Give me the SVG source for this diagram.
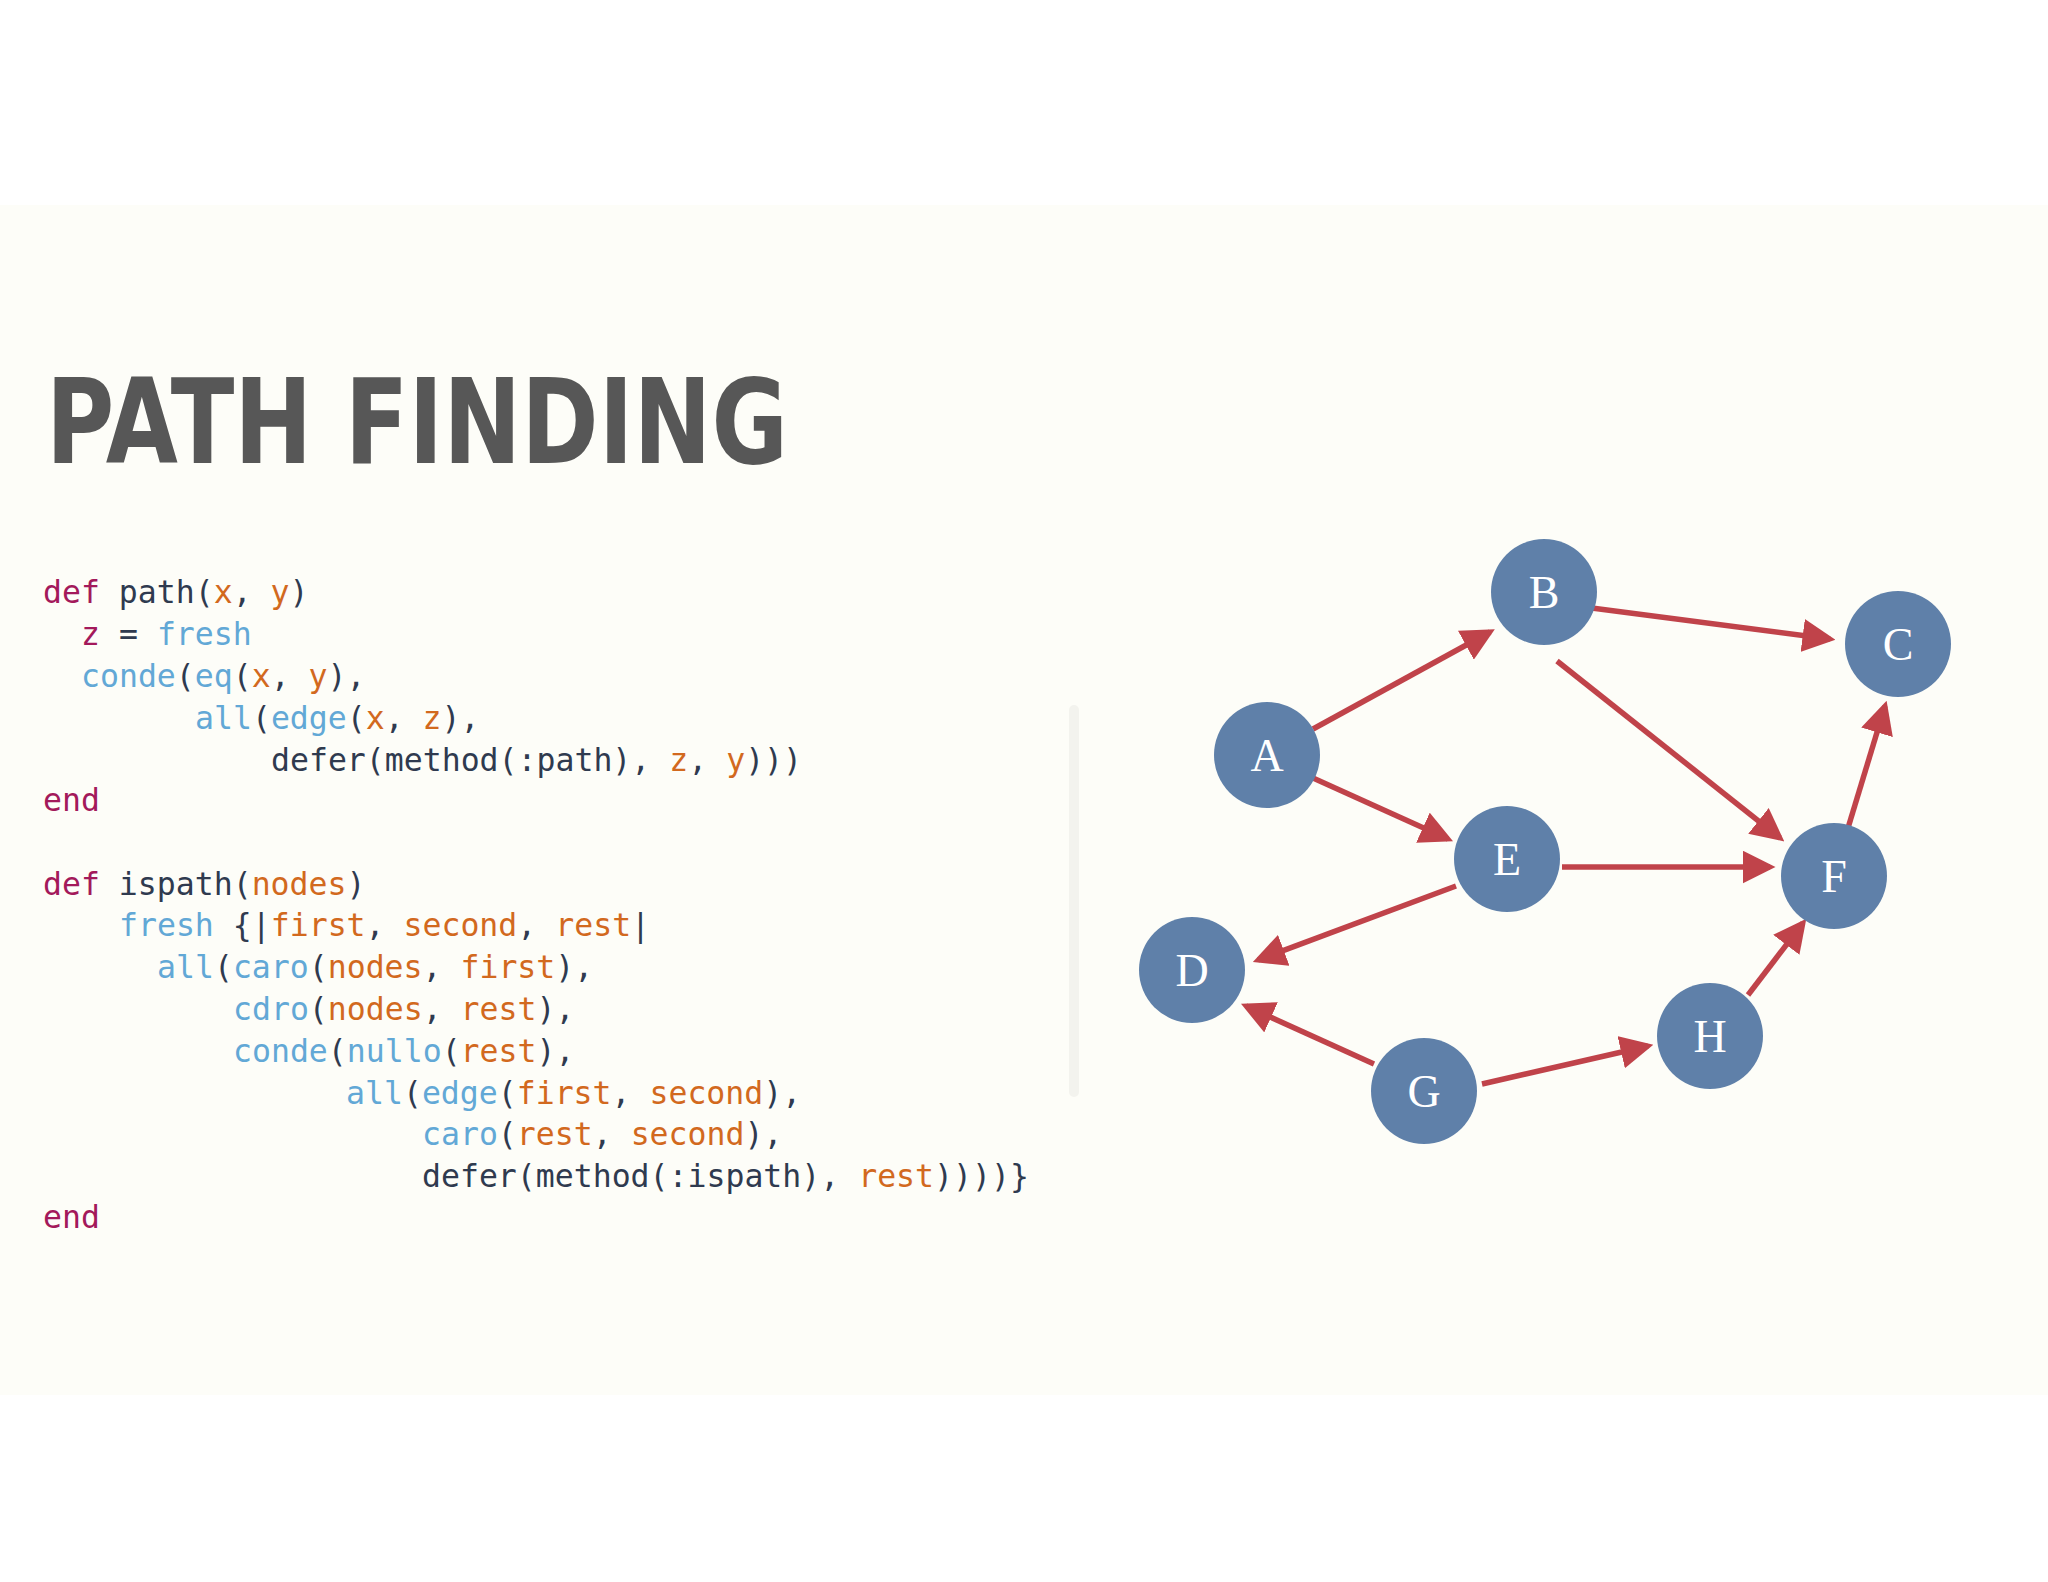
<svg xmlns="http://www.w3.org/2000/svg" width="2048" height="1582" viewBox="0 0 2048 1582">
<style>
.code{font-family:"DejaVu Sans Mono","Liberation Mono",monospace;font-size:31.5px;fill:#2f3a4f}
.k{fill:#a3195b}.b{fill:#62a8d6}.o{fill:#d2691e}
.node circle{fill:#5f80a9}
.node text{font-family:"Liberation Serif",serif;font-size:46px;fill:#fff;text-anchor:middle}
.edge{stroke:#c0434a;stroke-width:5.5;fill:none;marker-end:url(#ah)}
</style>
<defs><marker id="ah" markerWidth="6" markerHeight="6" refX="5" refY="3" orient="auto"><path d="M0,0L6,3L0,6z" fill="#c0434a"/></marker></defs>
<rect width="2048" height="1582" fill="#fff"/>
<rect y="205" width="2048" height="1190" fill="#fdfdf8"/>
<rect x="1069" y="705" width="10" height="392" rx="5" fill="#f3f3ee"/>
<text x="46" y="463" font-family="DejaVu Sans,sans-serif" font-weight="bold" font-size="118" fill="#575757" textLength="742" lengthAdjust="spacingAndGlyphs">PATH FINDING</text>
<g class="code">
<text x="43" y="603"><tspan class="k">def</tspan> path(<tspan class="o">x</tspan>, <tspan class="o">y</tspan>)</text>
<text x="81" y="645"><tspan class="k">z</tspan> = <tspan class="b">fresh</tspan></text>
<text x="81" y="687"><tspan class="b">conde</tspan>(<tspan class="b">eq</tspan>(<tspan class="o">x</tspan>, <tspan class="o">y</tspan>),</text>
<text x="195" y="729"><tspan class="b">all</tspan>(<tspan class="b">edge</tspan>(<tspan class="o">x</tspan>, <tspan class="o">z</tspan>),</text>
<text x="271" y="771">defer(method(:path), <tspan class="o">z</tspan>, <tspan class="o">y</tspan>)))</text>
<text x="43" y="811" class="k">end</text>
<text x="43" y="895"><tspan class="k">def</tspan> ispath(<tspan class="o">nodes</tspan>)</text>
<text x="119" y="936"><tspan class="b">fresh</tspan> {|<tspan class="o">first</tspan>, <tspan class="o">second</tspan>, <tspan class="o">rest</tspan>|</text>
<text x="157" y="978"><tspan class="b">all</tspan>(<tspan class="b">caro</tspan>(<tspan class="o">nodes</tspan>, <tspan class="o">first</tspan>),</text>
<text x="233" y="1020"><tspan class="b">cdro</tspan>(<tspan class="o">nodes</tspan>, <tspan class="o">rest</tspan>),</text>
<text x="233" y="1062"><tspan class="b">conde</tspan>(<tspan class="b">nullo</tspan>(<tspan class="o">rest</tspan>),</text>
<text x="346" y="1104"><tspan class="b">all</tspan>(<tspan class="b">edge</tspan>(<tspan class="o">first</tspan>, <tspan class="o">second</tspan>),</text>
<text x="422" y="1145"><tspan class="b">caro</tspan>(<tspan class="o">rest</tspan>, <tspan class="o">second</tspan>),</text>
<text x="422" y="1187">defer(method(:ispath), <tspan class="o">rest</tspan>))))}</text>
<text x="43" y="1228" class="k">end</text>
</g>
<g id="connectors">
<line class="edge" x1="1313" y1="729" x2="1490" y2="632"/>
<line class="edge" x1="1584" y1="607" x2="1830" y2="639"/>
<line class="edge" x1="1557" y1="661" x2="1780" y2="838"/>
<line class="edge" x1="1313" y1="778" x2="1448" y2="839"/>
<line class="edge" x1="1562" y1="867" x2="1770" y2="867"/>
<line class="edge" x1="1456" y1="886" x2="1258" y2="960"/>
<line class="edge" x1="1374" y1="1064" x2="1246" y2="1006"/>
<line class="edge" x1="1482" y1="1084" x2="1648" y2="1046"/>
<line class="edge" x1="1748" y1="995" x2="1803" y2="923"/>
<line class="edge" x1="1848" y1="828" x2="1885" y2="706"/>
</g>
<g id="A" class="node"><circle cx="1267" cy="755" r="53"/><text x="1267" y="771">A</text></g>
<g id="B" class="node"><circle cx="1544" cy="592" r="53"/><text x="1544" y="608">B</text></g>
<g id="C" class="node"><circle cx="1898" cy="644" r="53"/><text x="1898" y="660">C</text></g>
<g id="D" class="node"><circle cx="1192" cy="970" r="53"/><text x="1192" y="986">D</text></g>
<g id="E" class="node"><circle cx="1507" cy="859" r="53"/><text x="1507" y="875">E</text></g>
<g id="F" class="node"><circle cx="1834" cy="876" r="53"/><text x="1834" y="892">F</text></g>
<g id="G" class="node"><circle cx="1424" cy="1091" r="53"/><text x="1424" y="1107">G</text></g>
<g id="H" class="node"><circle cx="1710" cy="1036" r="53"/><text x="1710" y="1052">H</text></g>
</svg>
